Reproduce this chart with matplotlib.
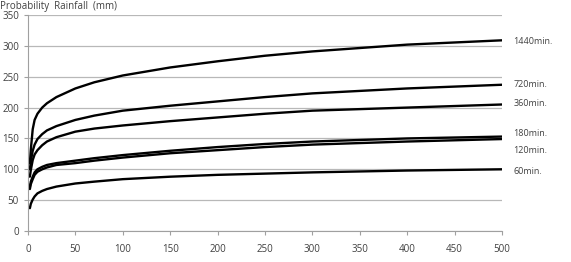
import numpy as np
import matplotlib
matplotlib.use("Agg")
from matplotlib import pyplot as plt

# return period (x) and probability rainfall for each duration
x = [2, 3, 5, 7, 10, 15, 20, 30, 50, 70, 100, 150, 200, 250, 300, 400, 500]
r1440 = [110, 132, 165, 180, 190, 200, 207, 217, 231, 241, 252, 265, 275, 284, 291, 302, 309]
r720 = [100, 113, 130, 140, 149, 157, 163, 170, 180, 187, 195, 203, 210, 217, 223, 231, 237]
r360 = [88, 99, 115, 124, 131, 139, 145, 152, 161, 166, 171, 178, 184, 190, 195, 200, 205]
r180 = [72, 80, 88, 95, 100, 104, 107, 110, 114, 118, 123, 130, 136, 141, 145, 150, 153]
r120 = [68, 76, 84, 91, 96, 100, 103, 107, 110, 114, 119, 126, 131, 136, 140, 145, 149]
r60 = [37, 44, 51, 56, 61, 65, 68, 72, 77, 80, 84, 88, 91, 93, 95, 98, 100]

series = [r1440, r720, r360, r180, r120, r60]
labels = ["1440min.", "720min.", "360min.", "180min.", "120min.", "60min."]
label_y = [307, 238, 206, 158, 130, 96]

plt.rcParams['font.family'] = ['Open Sans', 'DejaVu Sans']
fig = plt.figure(figsize=(5.71, 2.62), dpi=100, facecolor="w")
ax = fig.add_axes([0.049, 0.1183, 0.83, 0.8244])

for s in series:
    ax.plot(x, s, "-", color="black", lw=1.7, solid_capstyle="round", solid_joinstyle="round")

for lab, ly in zip(labels, label_y):
    ax.text(512, ly, lab, fontsize=6.5, color="#404040", va="center", ha="left", clip_on=False)

ax.set_xlim(0, 500)
ax.set_ylim(0, 350)
ax.set_xticks(np.arange(0, 501, 50))
ax.set_yticks(np.arange(0, 351, 50))
ax.yaxis.grid(True, color="#b8b8b8", lw=0.9)
ax.set_axisbelow(True)
for sp in ["top", "right"]:
    ax.spines[sp].set_visible(False)
for sp in ["left", "bottom"]:
    ax.spines[sp].set_color("#a0a0a0")
ax.tick_params(axis="both", labelsize=7, colors="#a0a0a0", labelcolor="#404040", length=3, width=0.8)
ax.tick_params(axis="x", pad=6)

fig.text(0.0, 0.998, "Probability  Rainfall  (mm)", fontsize=7, color="#404040", va="top", ha="left")

plt.savefig("out.png", dpi=100)
